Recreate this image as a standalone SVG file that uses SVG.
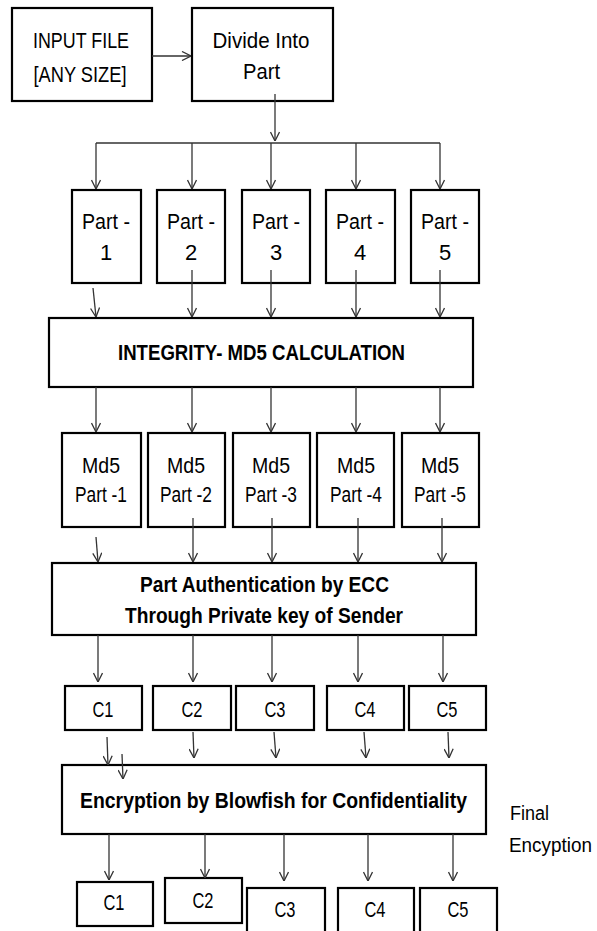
<svg xmlns="http://www.w3.org/2000/svg" width="597" height="931" viewBox="0 0 597 931">
<style>
.box{fill:#fff;stroke:#000;stroke-width:2.2}
.t{font-family:"Liberation Sans",Arial,sans-serif;font-size:22px;fill:#000;text-anchor:middle}
.b{font-weight:bold}
.l{text-anchor:start;font-size:19.5px}
.c line,.c path{stroke:#333;stroke-width:1.3;fill:none}
</style>
<defs>
<marker id="ah" viewBox="0 0 10 10" refX="10" refY="5" markerWidth="10" markerHeight="10" markerUnits="userSpaceOnUse" orient="auto">
<path d="M1,0.5 L10,5 L1,9.5" fill="none" stroke="#333" stroke-width="1.3"/>
</marker>
</defs>
<rect width="597" height="931" fill="#fff"/>

<g id="input">
<rect class="box" x="12" y="8" width="140" height="93"/>
<text class="t" x="81" y="48" textLength="96" lengthAdjust="spacingAndGlyphs">INPUT FILE</text>
<text class="t" x="80" y="82" textLength="93" lengthAdjust="spacingAndGlyphs">[ANY SIZE]</text>
</g>
<g id="divide">
<rect class="box" x="192" y="8" width="141" height="93"/>
<text class="t" x="261" y="48" textLength="97" lengthAdjust="spacingAndGlyphs">Divide Into</text>
<text class="t" x="261.5" y="79" textLength="37" lengthAdjust="spacingAndGlyphs">Part</text>
</g>

<g id="part1"><rect class="box" x="72" y="190" width="69" height="93"/><text class="t" x="106" y="229" textLength="48" lengthAdjust="spacingAndGlyphs">Part -</text><text class="t" x="106" y="260">1</text></g>
<g id="part2"><rect class="box" x="157" y="190" width="68" height="93"/><text class="t" x="191" y="229" textLength="48" lengthAdjust="spacingAndGlyphs">Part -</text><text class="t" x="191" y="260">2</text></g>
<g id="part3"><rect class="box" x="242" y="190" width="68" height="93"/><text class="t" x="276" y="229" textLength="48" lengthAdjust="spacingAndGlyphs">Part -</text><text class="t" x="276" y="260">3</text></g>
<g id="part4"><rect class="box" x="326" y="190" width="69" height="93"/><text class="t" x="360" y="229" textLength="48" lengthAdjust="spacingAndGlyphs">Part -</text><text class="t" x="360" y="260">4</text></g>
<g id="part5"><rect class="box" x="411" y="190" width="68" height="93"/><text class="t" x="445" y="229" textLength="48" lengthAdjust="spacingAndGlyphs">Part -</text><text class="t" x="445" y="260">5</text></g>

<g id="integrity">
<rect class="box" x="49" y="318" width="424" height="69"/>
<text class="t b" x="261.5" y="360" textLength="287" lengthAdjust="spacingAndGlyphs">INTEGRITY- MD5 CALCULATION</text>
</g>

<g id="md5-1"><rect class="box" x="62" y="433" width="79" height="94"/><text class="t" x="101" y="473" textLength="38" lengthAdjust="spacingAndGlyphs">Md5</text><text class="t" x="101" y="502" textLength="52" lengthAdjust="spacingAndGlyphs">Part -1</text></g>
<g id="md5-2"><rect class="box" x="148" y="433" width="77" height="94"/><text class="t" x="186" y="473" textLength="38" lengthAdjust="spacingAndGlyphs">Md5</text><text class="t" x="186" y="502" textLength="52" lengthAdjust="spacingAndGlyphs">Part -2</text></g>
<g id="md5-3"><rect class="box" x="233" y="433" width="77" height="94"/><text class="t" x="271" y="473" textLength="38" lengthAdjust="spacingAndGlyphs">Md5</text><text class="t" x="271" y="502" textLength="52" lengthAdjust="spacingAndGlyphs">Part -3</text></g>
<g id="md5-4"><rect class="box" x="317" y="433" width="77" height="94"/><text class="t" x="356" y="473" textLength="38" lengthAdjust="spacingAndGlyphs">Md5</text><text class="t" x="356" y="502" textLength="52" lengthAdjust="spacingAndGlyphs">Part -4</text></g>
<g id="md5-5"><rect class="box" x="402" y="433" width="77" height="94"/><text class="t" x="440" y="473" textLength="38" lengthAdjust="spacingAndGlyphs">Md5</text><text class="t" x="440" y="502" textLength="52" lengthAdjust="spacingAndGlyphs">Part -5</text></g>

<g id="ecc">
<rect class="box" x="52" y="563" width="424" height="72"/>
<text class="t b" x="264.5" y="592" textLength="249" lengthAdjust="spacingAndGlyphs">Part Authentication by ECC</text>
<text class="t b" x="264" y="623" textLength="278" lengthAdjust="spacingAndGlyphs">Through Private key of Sender</text>
</g>

<g id="sig-c1"><rect class="box" x="65" y="686" width="77" height="44"/><text class="t" x="103" y="717" textLength="21" lengthAdjust="spacingAndGlyphs">C1</text></g>
<g id="sig-c2"><rect class="box" x="153" y="686" width="78" height="44"/><text class="t" x="192" y="717" textLength="21" lengthAdjust="spacingAndGlyphs">C2</text></g>
<g id="sig-c3"><rect class="box" x="236" y="686" width="78" height="44"/><text class="t" x="275" y="717" textLength="21" lengthAdjust="spacingAndGlyphs">C3</text></g>
<g id="sig-c4"><rect class="box" x="327" y="686" width="77" height="44"/><text class="t" x="365" y="717" textLength="21" lengthAdjust="spacingAndGlyphs">C4</text></g>
<g id="sig-c5"><rect class="box" x="409" y="686" width="77" height="44"/><text class="t" x="447" y="717" textLength="21" lengthAdjust="spacingAndGlyphs">C5</text></g>

<g id="encryption">
<rect class="box" x="62" y="765" width="424" height="69"/>
<text class="t b" x="273.5" y="808" textLength="387" lengthAdjust="spacingAndGlyphs">Encryption by Blowfish for Confidentiality</text>
</g>

<g id="final-label">
<text class="t l" x="510" y="820" textLength="39" lengthAdjust="spacingAndGlyphs">Final</text>
<text class="t l" x="509" y="852" textLength="83" lengthAdjust="spacingAndGlyphs">Encyption</text>
</g>

<g id="enc-c1"><rect class="box" x="77" y="882" width="76" height="44"/><text class="t" x="114" y="910" textLength="21" lengthAdjust="spacingAndGlyphs">C1</text></g>
<g id="enc-c2"><rect class="box" x="165" y="878" width="77" height="45"/><text class="t" x="203" y="908" textLength="21" lengthAdjust="spacingAndGlyphs">C2</text></g>
<g id="enc-c3"><rect class="box" x="247" y="888" width="78" height="50"/><text class="t" x="285" y="917" textLength="21" lengthAdjust="spacingAndGlyphs">C3</text></g>
<g id="enc-c4"><rect class="box" x="338" y="888" width="76" height="50"/><text class="t" x="375" y="917" textLength="21" lengthAdjust="spacingAndGlyphs">C4</text></g>
<g id="enc-c5"><rect class="box" x="420" y="888" width="77" height="50"/><text class="t" x="458" y="917" textLength="21" lengthAdjust="spacingAndGlyphs">C5</text></g>

<g id="connectors" class="c">
<line x1="152" y1="56" x2="191" y2="56" marker-end="url(#ah)"/>
<line x1="275" y1="94" x2="275" y2="141" marker-end="url(#ah)"/>
<line x1="96" y1="143" x2="440" y2="143"/>
<line x1="96" y1="143" x2="96" y2="189" marker-end="url(#ah)"/>
<line x1="192" y1="143" x2="192" y2="189" marker-end="url(#ah)"/>
<line x1="271" y1="143" x2="271" y2="189" marker-end="url(#ah)"/>
<line x1="356" y1="143" x2="356" y2="189" marker-end="url(#ah)"/>
<line x1="440" y1="143" x2="440" y2="189" marker-end="url(#ah)"/>

<line x1="93" y1="288" x2="96" y2="317" marker-end="url(#ah)"/>
<line x1="192" y1="270" x2="192" y2="317" marker-end="url(#ah)"/>
<line x1="271" y1="270" x2="271" y2="317" marker-end="url(#ah)"/>
<line x1="356" y1="270" x2="356" y2="317" marker-end="url(#ah)"/>
<line x1="440" y1="270" x2="440" y2="317" marker-end="url(#ah)"/>

<line x1="96" y1="387" x2="96" y2="432" marker-end="url(#ah)"/>
<line x1="192" y1="387" x2="192" y2="432" marker-end="url(#ah)"/>
<line x1="271" y1="387" x2="271" y2="432" marker-end="url(#ah)"/>
<line x1="356" y1="387" x2="356" y2="432" marker-end="url(#ah)"/>
<line x1="440" y1="387" x2="440" y2="432" marker-end="url(#ah)"/>

<line x1="96" y1="537" x2="98" y2="562" marker-end="url(#ah)"/>
<line x1="193" y1="518" x2="193" y2="562" marker-end="url(#ah)"/>
<line x1="272" y1="518" x2="272" y2="562" marker-end="url(#ah)"/>
<line x1="358" y1="518" x2="358" y2="562" marker-end="url(#ah)"/>
<line x1="442" y1="518" x2="442" y2="562" marker-end="url(#ah)"/>

<line x1="98" y1="635" x2="98" y2="682" marker-end="url(#ah)"/>
<line x1="193" y1="635" x2="193" y2="682" marker-end="url(#ah)"/>
<line x1="272" y1="635" x2="272" y2="682" marker-end="url(#ah)"/>
<line x1="358" y1="635" x2="358" y2="682" marker-end="url(#ah)"/>
<line x1="443" y1="635" x2="443" y2="682" marker-end="url(#ah)"/>

<line x1="107" y1="737" x2="108" y2="765" marker-end="url(#ah)"/>
<line x1="122" y1="754" x2="123" y2="779" marker-end="url(#ah)"/>
<line x1="193" y1="732" x2="194" y2="758" marker-end="url(#ah)"/>
<line x1="274" y1="732" x2="276" y2="758" marker-end="url(#ah)"/>
<line x1="364" y1="732" x2="366" y2="758" marker-end="url(#ah)"/>
<line x1="448" y1="732" x2="449" y2="758" marker-end="url(#ah)"/>

<line x1="109" y1="834" x2="109" y2="880" marker-end="url(#ah)"/>
<line x1="205" y1="834" x2="205" y2="878" marker-end="url(#ah)"/>
<line x1="284" y1="834" x2="284" y2="881" marker-end="url(#ah)"/>
<line x1="368" y1="834" x2="368" y2="881" marker-end="url(#ah)"/>
<line x1="453" y1="834" x2="453" y2="881" marker-end="url(#ah)"/>
</g>
</svg>
